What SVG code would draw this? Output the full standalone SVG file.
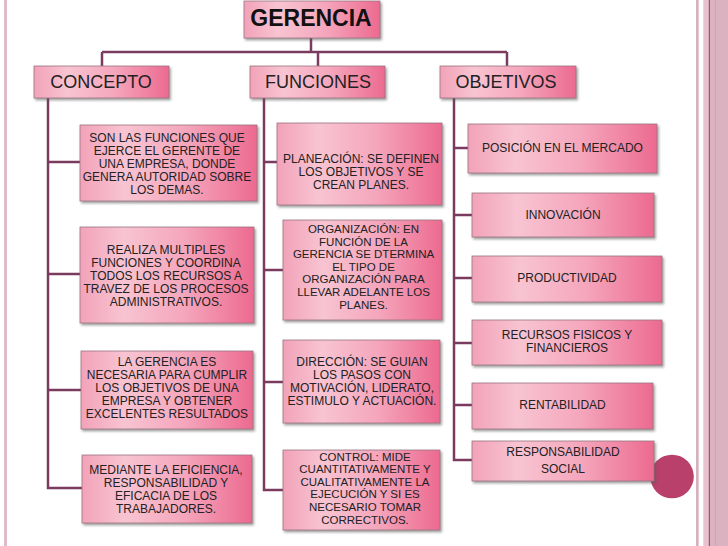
<svg xmlns="http://www.w3.org/2000/svg" width="728" height="546" viewBox="0 0 728 546">
<defs>
<linearGradient id="g" x1="0" y1="0" x2="1" y2="0">
<stop offset="0" stop-color="#f2a2b9"/>
<stop offset="0.25" stop-color="#f8c4d2"/>
<stop offset="0.6" stop-color="#f5a6bc"/>
<stop offset="1" stop-color="#ec6a90"/>
</linearGradient>
<filter id="sh" x="-10%" y="-10%" width="125%" height="130%">
<feDropShadow dx="1.5" dy="2" stdDeviation="1" flood-color="#555" flood-opacity="0.55"/>
</filter>
</defs>
<style>
.b{fill:url(#g);stroke:#9a7480;stroke-width:0.8;filter:url(#sh)}
.t{font-family:"Liberation Sans",Arial,sans-serif;font-size:12px;fill:#222;text-anchor:middle}
.s{font-size:11.5px}
.h{font-family:"Liberation Sans",Arial,sans-serif;font-size:18px;fill:#222;text-anchor:middle}
.c{fill:none;stroke:#7a3b5e;stroke-width:2.5}
</style>
<rect width="728" height="546" fill="#fff"/>
<g id="frame">
<rect x="4" y="0" width="3" height="546" fill="#dfbdc7"/>
<rect x="696" y="0" width="2.7" height="546" fill="#d6b2be"/>
<rect x="703.3" y="0" width="24.7" height="546" fill="#e6c3cd"/>
<rect x="709.7" y="0" width="24" height="546" fill="#dbb3c0"/>
<rect x="708.8" y="0" width="1.2" height="546" fill="#b04a70"/>
<rect x="715" y="0" width="1" height="546" fill="#cfa3b2"/>
<circle cx="672" cy="476.5" r="21.8" fill="#b8406a"/>
</g>
<g id="connectors">
<path class="c" d="M311 38V52M102 52H507M102 52V66M318 52V66M507 52V66"/>
<path class="c" d="M48 98V488H82M48 162H80M48 274H80M48 390H81"/>
<path class="c" d="M264 98V490H283M264 162H277M264 270H283M264 382H283"/>
<path class="c" d="M454 98V460H472M454 148H468M454 215H472M454 278H472M454 343H472M454 405H472"/>
</g>
<g id="gerencia">
<rect class="b" x="244" y="1" width="136" height="37"/>
<text x="311" y="26" font-family="Liberation Sans,Arial,sans-serif" font-size="23" font-weight="bold" fill="#111" text-anchor="middle">GERENCIA</text>
</g>
<g id="concepto">
<rect class="b" x="34" y="66" width="135" height="32"/>
<text class="h" x="101" y="87.5">CONCEPTO</text>
</g>
<g id="funciones">
<rect class="b" x="250" y="66" width="135" height="32"/>
<text class="h" x="318" y="87.5">FUNCIONES</text>
</g>
<g id="objetivos">
<rect class="b" x="440" y="66" width="136" height="32"/>
<text class="h" x="506" y="87.5">OBJETIVOS</text>
</g>
<g id="c1">
<rect class="b" x="80" y="125" width="177" height="76"/>
<text class="t"><tspan x="167" y="141.7">SON LAS FUNCIONES QUE</tspan><tspan x="167" y="154.8">EJERCE EL GERENTE DE</tspan><tspan x="167" y="167.9">UNA EMPRESA,  DONDE</tspan><tspan x="167" y="181">GENERA AUTORIDAD SOBRE</tspan><tspan x="167" y="194.1">LOS DEMAS.</tspan></text>
</g>
<g id="c2">
<rect class="b" x="80" y="227" width="174" height="96"/>
<text class="t"><tspan x="166" y="254">REALIZA MULTIPLES</tspan><tspan x="166" y="267.1">FUNCIONES Y COORDINA</tspan><tspan x="166" y="280.2">TODOS LOS RECURSOS A</tspan><tspan x="166" y="293.3">TRAVEZ DE LOS PROCESOS</tspan><tspan x="166" y="306.4">ADMINISTRATIVOS.</tspan></text>
</g>
<g id="c3">
<rect class="b" x="81" y="351" width="172" height="78"/>
<text class="t"><tspan x="167" y="366">LA GERENCIA ES</tspan><tspan x="167" y="379.1">NECESARIA PARA CUMPLIR</tspan><tspan x="167" y="392.2">LOS OBJETIVOS DE UNA</tspan><tspan x="167" y="405.3">EMPRESA Y OBTENER</tspan><tspan x="167" y="418.4">EXCELENTES RESULTADOS</tspan></text>
</g>
<g id="c4">
<rect class="b" x="82" y="455" width="170" height="68"/>
<text class="t"><tspan x="166" y="473.5">MEDIANTE  LA EFICIENCIA,</tspan><tspan x="166" y="486.6">RESPONSABILIDAD Y</tspan><tspan x="166" y="499.7">EFICACIA DE LOS</tspan><tspan x="166" y="512.8">TRABAJADORES.</tspan></text>
</g>
<g id="f1">
<rect class="b" x="277" y="123" width="165" height="82"/>
<text class="t"><tspan x="361" y="163">PLANEACIÓN: SE DEFINEN</tspan><tspan x="361" y="176.1">LOS OBJETIVOS Y SE</tspan><tspan x="361" y="189.2">CREAN PLANES.</tspan></text>
</g>
<g id="f2">
<rect class="b" x="283" y="220" width="159" height="100"/>
<text class="t s"><tspan x="363.5" y="233">ORGANIZACIÓN: EN</tspan><tspan x="363.5" y="245.6">FUNCIÓN DE LA</tspan><tspan x="363.5" y="258.2">GERENCIA SE DTERMINA</tspan><tspan x="363.5" y="270.8">EL TIPO DE</tspan><tspan x="363.5" y="283.4">ORGANIZACIÓN PARA</tspan><tspan x="363.5" y="296">LLEVAR ADELANTE LOS</tspan><tspan x="363.5" y="308.6">PLANES.</tspan></text>
</g>
<g id="f3">
<rect class="b" x="283" y="340" width="157" height="83"/>
<text class="t"><tspan x="362" y="366">DIRECCIÓN: SE GUIAN</tspan><tspan x="362" y="379.1">LOS PASOS CON</tspan><tspan x="362" y="392.2">MOTIVACIÓN, LIDERATO,</tspan><tspan x="362" y="405.3">ESTIMULO Y ACTUACIÓN.</tspan></text>
</g>
<g id="f4">
<rect class="b" x="283" y="450" width="157" height="80"/>
<text class="t s"><tspan x="365" y="460.5">CONTROL: MIDE</tspan><tspan x="365" y="473.1">CUANTITATIVAMENTE Y</tspan><tspan x="365" y="485.7">CUALITATIVAMENTE LA</tspan><tspan x="365" y="498.3">EJECUCIÓN Y SI ES</tspan><tspan x="365" y="510.9">NECESARIO TOMAR</tspan><tspan x="365" y="523.5">CORRECTIVOS.</tspan></text>
</g>
<g id="o1">
<rect class="b" x="468" y="124" width="189" height="49"/>
<text class="t" x="562.5" y="151.6">POSICIÓN EN EL MERCADO</text>
</g>
<g id="o2">
<rect class="b" x="472" y="193" width="182" height="44"/>
<text class="t" x="563" y="219.3">INNOVACIÓN</text>
</g>
<g id="o3">
<rect class="b" x="472" y="256" width="190" height="46"/>
<text class="t" x="567" y="282">PRODUCTIVIDAD</text>
</g>
<g id="o4">
<rect class="b" x="472" y="320" width="190" height="45"/>
<text class="t"><tspan x="567" y="338.5">RECURSOS FISICOS Y</tspan><tspan x="567" y="351.6">FINANCIEROS</tspan></text>
</g>
<g id="o5">
<rect class="b" x="472" y="383" width="181" height="46"/>
<text class="t" x="562.5" y="409.3">RENTABILIDAD</text>
</g>
<g id="o6">
<rect class="b" x="472" y="441" width="182" height="40"/>
<text class="t"><tspan x="563" y="456">RESPONSABILIDAD</tspan><tspan x="563" y="472.6">SOCIAL</tspan></text>
</g>
</svg>
